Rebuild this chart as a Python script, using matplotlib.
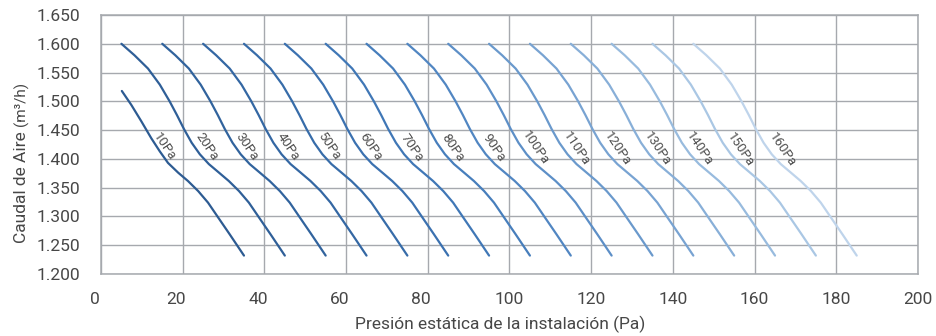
import matplotlib
matplotlib.use("Agg")
import matplotlib.pyplot as plt
import matplotlib.transforms as mtransforms
import numpy as np

# ---------------- data ----------------
# 10 Pa curve (truncated at the top)
p10 = [5.1, 7.4, 9.9, 12.3, 14.4, 16.4, 18.9, 21.3, 23.8, 26.2, 28.7, 31.5, 35.0]
q10 = [1.518, 1.494, 1.465, 1.436, 1.413, 1.393, 1.376, 1.3615, 1.344, 1.324, 1.298, 1.269, 1.232]

# 20 Pa curve (full shape); the 30..160 Pa curves are the same shape moved right
p20 = [5.0, 8.2, 11.5, 14.4, 16.8, 18.6, 20.3, 22.2, 24.2, 26.4, 28.9, 31.3, 33.8, 36.2, 38.7, 41.5, 45.0]
q20 = [1.600, 1.580, 1.557, 1.529, 1.500, 1.476, 1.452, 1.428, 1.408, 1.391, 1.376, 1.3615, 1.344, 1.324, 1.298, 1.269, 1.232]

# pressure of each curve and its shift relative to the 20 Pa curve
curve_pa = [20, 30, 40, 50, 60, 70, 80, 90, 100, 110, 120, 130, 140, 150, 160]
curve_shift = [0, 10, 20, 30, 40, 50, 60, 70, 80, 90, 100, 110, 120, 130, 140]

labels = ["10Pa", "20Pa", "30Pa", "40Pa", "50Pa", "60Pa", "70Pa", "80Pa",
          "90Pa", "100Pa", "110Pa", "120Pa", "130Pa", "140Pa", "150Pa", "160Pa"]
label_x = [15.4, 26.0, 35.6, 45.8, 55.8, 66.0, 76.0, 86.0, 96.2, 106.3, 116.3,
           126.3, 136.2, 146.5, 156.5, 166.8]
label_y = [1.422, 1.422, 1.422, 1.422, 1.421, 1.421, 1.420, 1.420, 1.419, 1.419,
           1.418, 1.418, 1.417, 1.417, 1.416, 1.416]

colors = ["#2d5b92", "#2f5f98", "#31639d", "#3467a3", "#376ca9", "#3b71b0",
          "#4077b6", "#477ebc", "#5186c2", "#5d8fc7", "#6a99cc", "#78a3d2",
          "#88afd8", "#98bbde", "#aac7e4", "#bfd4eb"]

x_ticks = [0, 20, 40, 60, 80, 100, 120, 140, 160, 180, 200]
y_ticks = [1.200, 1.250, 1.300, 1.350, 1.400, 1.450, 1.500, 1.550, 1.600, 1.650]
y_ticklabels = ["1.200", "1.250", "1.300", "1.350", "1.400", "1.450",
                "1.500", "1.550", "1.600", "1.650"]

# ---------------- figure ----------------
W, H = 937, 336
plt.rcParams['font.family'] = ['Roboto', 'DejaVu Sans']
TXT = "#474747"
GRID = "#a6a9ae"

fig = plt.figure(figsize=(W / 100, H / 100), dpi=100)
ax = fig.add_axes([101 / W, 1 - 274 / H, (918 - 101) / W, (274 - 15) / H])

ax.set_xlim(0, 200)
ax.set_ylim(1.2, 1.65)

ax.set_xticks(x_ticks)
ax.set_xticklabels([str(v) for v in x_ticks])
ax.set_yticks(y_ticks)
ax.set_yticklabels(y_ticklabels)
ax.tick_params(axis='both', length=0, labelsize=12.5, labelcolor=TXT)
ax.tick_params(axis='x', pad=13)
ax.tick_params(axis='y', pad=15)

ax.grid(True, color=GRID, linewidth=1.0)
ax.set_axisbelow(True)
for s in ax.spines.values():
    s.set_color(GRID)
    s.set_linewidth(1.1)

# shift the 1-2 digit x labels slightly left as in the reference
off = mtransforms.ScaledTranslation(-6.5 / 100, 0, fig.dpi_scale_trans)
for v, lab in zip(x_ticks, ax.get_xticklabels()):
    if v < 100:
        lab.set_transform(lab.get_transform() + off)

# curves
ax.plot(p10, q10, color=colors[0], lw=1.6, solid_capstyle='round',
        solid_joinstyle='round', zorder=3)
p20a = np.array(p20)
for i, sh in enumerate(curve_shift):
    ax.plot(p20a + sh, q20, color=colors[i + 1], lw=1.6,
            solid_capstyle='round', solid_joinstyle='round', zorder=3)

for t, lx, ly in zip(labels, label_x, label_y):
    ax.text(lx, ly, t, rotation=-56, rotation_mode='anchor', ha='center',
            va='center', fontsize=9.5, color="#505050", zorder=4)

# axis titles
fig.text(500 / W, 1 - 324 / H, "Presión estática de la instalación (Pa)",
         ha='center', va='center', fontsize=12.5, color=TXT)

fig.text(26 / W, 1 - 131 / H, "Caudal de Aire", rotation=90,
         rotation_mode='anchor', ha='right', va='baseline',
         fontsize=12.5, color=TXT)
fig.text(26 / W, 1 - 126 / H, "(m³/h)", rotation=90,
         rotation_mode='anchor', ha='left', va='baseline',
         fontsize=11, color=TXT)

fig.savefig("out.png", dpi=100)
